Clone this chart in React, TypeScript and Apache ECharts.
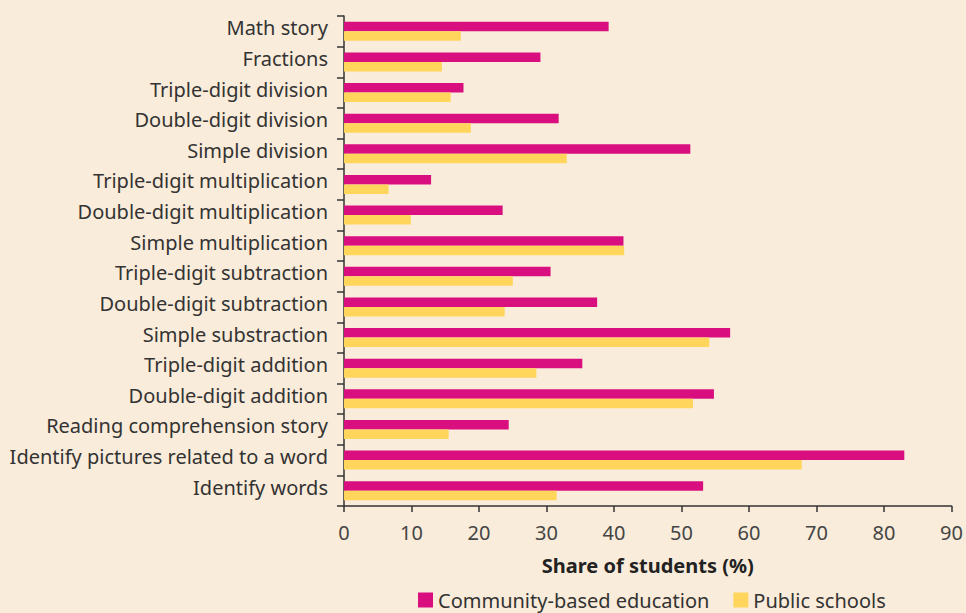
import React, { useEffect, useRef } from "react";
import * as echarts from "echarts";

const categories = [
  "Math story",
  "Fractions",
  "Triple-digit division",
  "Double-digit division",
  "Simple division",
  "Triple-digit multiplication",
  "Double-digit multiplication",
  "Simple multiplication",
  "Triple-digit subtraction",
  "Double-digit subtraction",
  "Simple substraction",
  "Triple-digit addition",
  "Double-digit addition",
  "Reading comprehension story",
  "Identify pictures related to a word",
  "Identify words",
];

const communityBased = [39.2, 29.1, 17.7, 31.8, 51.3, 12.9, 23.5, 41.4, 30.6, 37.5, 57.2, 35.3, 54.8, 24.4, 83.0, 53.2];
const publicSchools = [17.3, 14.5, 15.8, 18.8, 33.0, 6.6, 9.9, 41.5, 25.0, 23.8, 54.1, 28.5, 51.7, 15.5, 67.8, 31.5];

const seriesNames = ["Community-based education", "Public schools"];
const xTicks = { min: 0, max: 90, interval: 10 };

const FONT = "'Noto Sans', Lato, sans-serif";

export default function App() {
  const ref = useRef<HTMLDivElement>(null);
  useEffect(() => {
    if (!ref.current) return;
    const chart = echarts.init(ref.current, undefined, { renderer: "svg" });
    chart.setOption({
      animation: false,
      backgroundColor: "#FAECDA",
      textStyle: { fontFamily: FONT },
      grid: { left: 344, right: 13, top: 16, bottom: 107, containLabel: false },
      legend: {
        bottom: -2,
        left: 413,
        itemWidth: 15,
        itemHeight: 15,
        itemGap: 24,
        icon: "rect",
        textStyle: { fontSize: 20, color: "#333", fontFamily: FONT },
        data: seriesNames,
      },
      xAxis: {
        type: "value",
        min: xTicks.min,
        max: xTicks.max,
        interval: xTicks.interval,
        name: "Share of students (%)",
        nameLocation: "middle",
        nameGap: 49,
        nameTextStyle: { fontSize: 20, fontWeight: "bold", color: "#222", fontFamily: FONT },
        axisLine: { show: true, lineStyle: { color: "#333", width: 1.5 } },
        axisTick: { show: true, length: 6, lineStyle: { color: "#333", width: 1.5 } },
        axisLabel: { fontSize: 20, color: "#444", margin: 16, fontFamily: FONT },
        splitLine: { show: false },
      },
      yAxis: {
        type: "category",
        inverse: true,
        data: categories,
        axisLine: { show: true, lineStyle: { color: "#333", width: 1.5 } },
        axisTick: { show: true, length: 7, alignWithLabel: false, lineStyle: { color: "#333", width: 1.5 } },
        axisLabel: {
          fontSize: 20,
          color: "#333",
          margin: 16,
          verticalAlign: "bottom",
          lineHeight: 7,
          fontFamily: FONT,
        },
      },
      series: [
        {
          name: seriesNames[0],
          type: "bar",
          data: communityBased,
          itemStyle: { color: "#D90F80" },
          barGap: "0%",
          barCategoryGap: "38%",
        },
        {
          name: seriesNames[1],
          type: "bar",
          data: publicSchools,
          itemStyle: { color: "#FFD55C" },
          barGap: "0%",
          barCategoryGap: "38%",
        },
      ],
    });
    return () => chart.dispose();
  }, []);
  return <div ref={ref} style={{ width: 966, height: 613, position: "fixed", left: 0, top: 0 }} />;
}
